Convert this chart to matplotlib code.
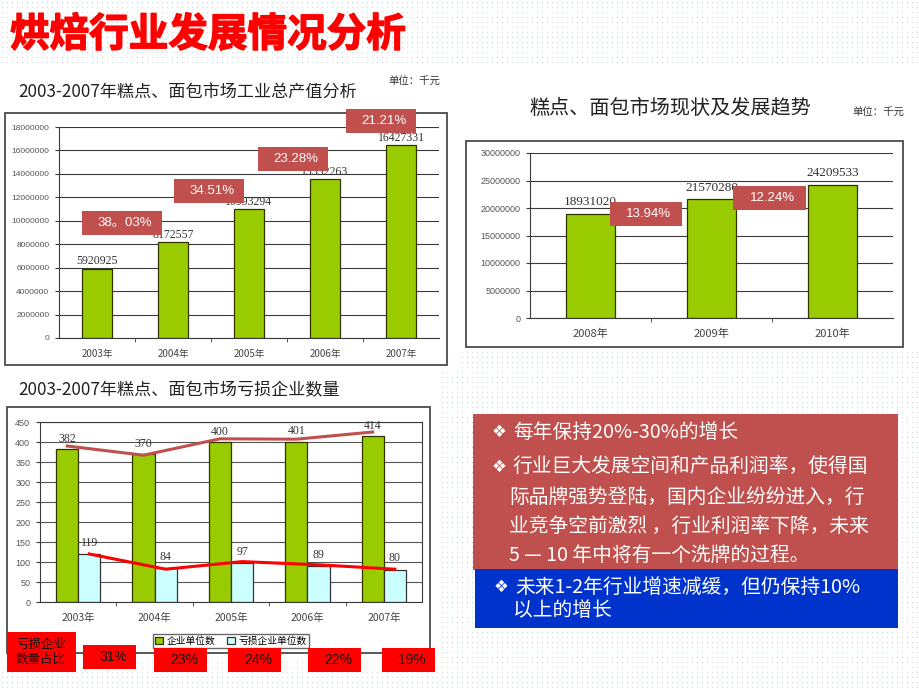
import numpy as np
import matplotlib
matplotlib.use("Agg")
import matplotlib.pyplot as plt
import matplotlib.patheffects as pe
from matplotlib.patches import Rectangle
from matplotlib.ticker import FuncFormatter

plt.rcParams['font.family'] = ['Noto Sans CJK SC', 'DejaVu Sans']

# chart 1: 2003-2007 output (thousand yuan)
years_a = ['2003年', '2004年', '2005年', '2006年', '2007年']
output_a = [5920925, 8172557, 10993294, 13552263, 16427331]
growth_a = ['38。03%', '34.51%', '23.28%', '21.21%']

# chart 2: 2008-2010 trend
years_b = ['2008年', '2009年', '2010年']
output_b = [18931020, 21570280, 24209533]
growth_b = ['13.94%', '12.24%']

# chart 3: firms and loss-making firms
years_c = ['2003年', '2004年', '2005年', '2006年', '2007年']
firms = [382, 370, 400, 401, 414]
loss_firms = [119, 84, 97, 89, 80]
loss_share = ['31%', '23%', '24%', '22%', '19%']
trend_firms = [390, 367, 408, 407, 425]
trend_loss = [120, 82, 101, 93, 82]

W, H = 920, 690
GREEN = '#99CC00'
CYAN = '#CCFFFF'
BOXRED = '#C0504D'
EDGE = '#333300'


def box(x0, y0, x1, y1):
    return [x0 / W, 1 - y1 / H, (x1 - x0) / W, (y1 - y0) / H]


fig = plt.figure(figsize=(9.2, 6.9), dpi=100)

# background with dot pattern
bg = fig.add_axes([0, 0, 1, 1], zorder=0)
pattern = np.ones((H, W, 3))
pattern[2::5, 2::5] = [0.76, 0.87, 0.87]
bg.imshow(pattern, extent=(0, W, H, 0), interpolation='nearest', aspect='auto')
bg.set_xlim(0, W)
bg.set_ylim(H, 0)
bg.axis('off')

# white picture areas
for x0, y0, x1, y1 in [(0, 66, 460, 368), (458, 66, 920, 351), (0, 372, 438, 662)]:
    bg.add_patch(Rectangle((x0, y0), x1 - x0, y1 - y0, facecolor='white', edgecolor='none'))
# chart frames
for x0, y0, x1, y1 in [(5, 113, 447, 365), (466, 141, 903, 347), (7, 407, 430, 653)]:
    bg.add_patch(Rectangle((x0, y0), x1 - x0, y1 - y0, facecolor='white',
                           edgecolor='#4a4a4a', lw=1.3))

bg.text(10, 35, '烘焙行业发展情况分析', fontsize=28.5, fontweight='black', color='#FF0000',
        va='center', ha='left',
        path_effects=[pe.withStroke(linewidth=1.0, foreground='#FF0000')])
bg.text(18, 92, '2003-2007年糕点、面包市场工业总产值分析', fontsize=12.3, color='#222222',
        va='center', ha='left')
bg.text(388, 82, '单位：千元', fontsize=7.5, color='#333333', va='center', ha='left')
bg.text(530, 108, '糕点、面包市场现状及发展趋势', fontsize=14.5, color='#222222',
        va='center', ha='left')
bg.text(852, 113, '单位：千元', fontsize=7.5, color='#333333', va='center', ha='left')
bg.text(18, 390, '2003-2007年糕点、面包市场亏损企业数量', fontsize=12.3, color='#222222',
        va='center', ha='left')

plain = FuncFormatter(lambda v, p: f'{int(round(v))}')


def style_axis(ax, ylim, step, ylab_size, xlab_size, right_border=False):
    ax.set_ylim(0, ylim)
    ax.set_yticks(np.arange(0, ylim + 1, step))
    ax.yaxis.set_major_formatter(plain)
    ax.yaxis.grid(True, color='#3a3a3a', lw=0.8)
    ax.set_axisbelow(True)
    for s in ['top', 'right']:
        ax.spines[s].set_visible(right_border)
        ax.spines[s].set_color('#3a3a3a')
    ax.spines['left'].set_color('#3a3a3a')
    ax.spines['bottom'].set_color('#3a3a3a')
    ax.tick_params(axis='y', labelsize=ylab_size, labelcolor='#555555', length=3,
                   color='#3a3a3a', pad=4)
    ax.tick_params(axis='x', which='major', labelsize=xlab_size, labelcolor='#444444',
                   length=0, pad=8)
    ax.tick_params(axis='x', which='minor', length=3, color='#3a3a3a')
    for lab in ax.get_yticklabels():
        lab.set_family(['Liberation Sans', 'DejaVu Sans'])


# chart 1
ax1 = fig.add_axes(box(59, 127, 439, 338), zorder=2)
x1 = np.arange(len(years_a))
ax1.bar(x1, output_a, width=0.39, color=GREEN, edgecolor=EDGE, lw=0.9)
ax1.set_xlim(-0.5, len(years_a) - 0.5)
ax1.set_xticks(x1, years_a)
ax1.set_xticks(np.arange(0.5, len(years_a) - 1, 1), minor=True)
style_axis(ax1, 18000000, 2000000, 6, 7)
for xi, v in zip(x1, output_a):
    ax1.annotate(str(v), (xi, v), xytext=(0, 1), textcoords='offset points',
                 ha='center', va='bottom', fontsize=8.5, color='#333333',
                 family=['Liberation Serif', 'DejaVu Serif'])

# chart 2
ax2 = fig.add_axes(box(530, 153, 893, 318), zorder=2)
x2 = np.arange(len(years_b))
ax2.bar(x2, output_b, width=0.4, color=GREEN, edgecolor=EDGE, lw=0.9)
ax2.set_xlim(-0.5, len(years_b) - 0.5)
ax2.set_xticks(x2, years_b)
ax2.set_xticks(np.arange(0.5, len(years_b) - 1, 1), minor=True)
style_axis(ax2, 30000000, 5000000, 6.5, 8)
for xi, v in zip(x2, output_b):
    ax2.annotate(str(v), (xi, v), xytext=(0, 4), textcoords='offset points',
                 ha='center', va='bottom', fontsize=9.5, color='#333333',
                 family=['Liberation Serif', 'DejaVu Serif'])

# chart 3
ax3 = fig.add_axes(box(40, 422, 422, 602), zorder=2)
x3 = np.arange(len(years_c))
bw = 0.29
b_tot = ax3.bar(x3 - bw / 2, firms, width=bw, color=GREEN, edgecolor=EDGE, lw=0.9,
                label='企业单位数')
b_loss = ax3.bar(x3 + bw / 2, loss_firms, width=bw, color=CYAN, edgecolor='#333333', lw=0.9,
                 label='亏损企业单位数')
ax3.set_xlim(-0.5, len(years_c) - 0.5)
ax3.set_xticks(x3, years_c)
ax3.set_xticks(np.arange(0.5, len(years_c) - 1, 1), minor=True)
style_axis(ax3, 450, 50, 6.5, 7.5, right_border=True)
ax3.yaxis.grid(True, color='#555555', lw=0.8)
for xi, v in zip(x3 - bw / 2, firms):
    ax3.annotate(str(v), (xi, v), xytext=(0, 3), textcoords='offset points',
                 ha='center', va='bottom', fontsize=8.5, color='#333333',
                 family=['Liberation Serif', 'DejaVu Serif'])
for xi, v in zip(x3 + bw / 2, loss_firms):
    ax3.annotate(str(v), (xi, v), xytext=(0, 4), textcoords='offset points',
                 ha='center', va='bottom', fontsize=8.5, color='#333333',
                 family=['Liberation Serif', 'DejaVu Serif'])
ax3.plot(x3 - bw / 2, trend_firms, color='#C0504D', lw=2.2, zorder=5)
ax3.plot(x3 + bw / 2, trend_loss, color='#FF0000', lw=2.2, zorder=5)

fig.legend(handles=[b_tot, b_loss], loc='center', bbox_to_anchor=(231 / W, 1 - 641 / H),
           ncol=2, fontsize=7, frameon=True, fancybox=False, edgecolor='#444444',
           borderpad=0.2, handlelength=0.8, handleheight=0.8, handletextpad=0.4,
           columnspacing=1.2, borderaxespad=0)

# overlay: growth boxes, share boxes, text panels
ov = fig.add_axes([0, 0, 1, 1], zorder=10)
ov.set_xlim(0, W)
ov.set_ylim(H, 0)
ov.axis('off')
ov.patch.set_alpha(0)

g1_boxes = [(82, 211, 162, 235), (174, 179, 244, 203), (258, 147, 328, 171), (346, 109, 416, 133)]
for (x0, y0, x1_, y1_), lab in zip(g1_boxes, growth_a):
    ov.add_patch(Rectangle((x0, y0), x1_ - x0, y1_ - y0, facecolor=BOXRED, edgecolor='none'))
    ov.text((x0 + x1_) / 2 + 3, (y0 + y1_) / 2, lab, color='white', fontsize=9.5,
            ha='center', va='center', family=['Liberation Sans', 'Noto Sans CJK SC'])

g2_boxes = [(610, 202, 682, 226), (733, 186, 806, 210)]
for (x0, y0, x1_, y1_), lab in zip(g2_boxes, growth_b):
    ov.add_patch(Rectangle((x0, y0), x1_ - x0, y1_ - y0, facecolor=BOXRED, edgecolor='none'))
    ov.text((x0 + x1_) / 2 + 3, (y0 + y1_) / 2, lab, color='white', fontsize=9.5,
            ha='center', va='center', family=['Liberation Sans', 'DejaVu Sans'])

ov.add_patch(Rectangle((7, 632), 69, 40, facecolor='#FF0000', edgecolor='none'))
ov.text(41, 652, '亏损企业\n数量占比', fontsize=9, color='#111111', ha='center', va='center',
        linespacing=1.15)
share_x = [83, 154, 228, 308, 382]
share_y = [645, 648, 648, 648, 648]
for xs, ys, lab in zip(share_x, share_y, loss_share):
    ov.add_patch(Rectangle((xs, ys), 53, 24, facecolor='#FF0000', edgecolor='none'))
    ov.text(xs + 30, ys + 12, lab, fontsize=10, color='#111111', ha='center', va='center',
            family=['Liberation Sans', 'DejaVu Sans'])

ov.add_patch(Rectangle((473, 414), 425, 156, facecolor=BOXRED, edgecolor='none'))
ov.add_patch(Rectangle((475, 569), 423, 59, facecolor='#0033CC', edgecolor='none'))

fs = 14.2
bs = 12
tfam = ['Noto Sans CJK SC', 'DejaVu Sans']
ov.text(492, 432, '❖', fontsize=bs, color='white', ha='left', va='center', family=['DejaVu Sans'])
ov.text(513, 432, '每年保持20%-30%的增长', fontsize=fs, color='white', ha='left', va='center',
        family=tfam)
ov.text(492, 467, '❖', fontsize=bs, color='white', ha='left', va='center', family=['DejaVu Sans'])
ov.text(513, 467, '行业巨大发展空间和产品利润率，使得国', fontsize=fs, color='white',
        ha='left', va='center', family=tfam)
ov.text(509, 497, '际品牌强势登陆，国内企业纷纷进入，行', fontsize=fs, color='white',
        ha='left', va='center', family=tfam)
ov.text(509, 527, '业竞争空前激烈 ，行业利润率下降，未来', fontsize=fs, color='white',
        ha='left', va='center', family=tfam)
ov.text(509, 555, '5 — 10 年中将有一个洗牌的过程。', fontsize=fs, color='white',
        ha='left', va='center', family=tfam)
ov.text(494, 587, '❖', fontsize=bs, color='white', ha='left', va='center', family=['DejaVu Sans'])
ov.text(515, 587, '未来1-2年行业增速减缓，但仍保持10%', fontsize=fs, color='white',
        ha='left', va='center', family=tfam)
ov.text(513, 610, '以上的增长', fontsize=fs, color='white', ha='left', va='center', family=tfam)

fig.savefig('out.png', dpi=100)
